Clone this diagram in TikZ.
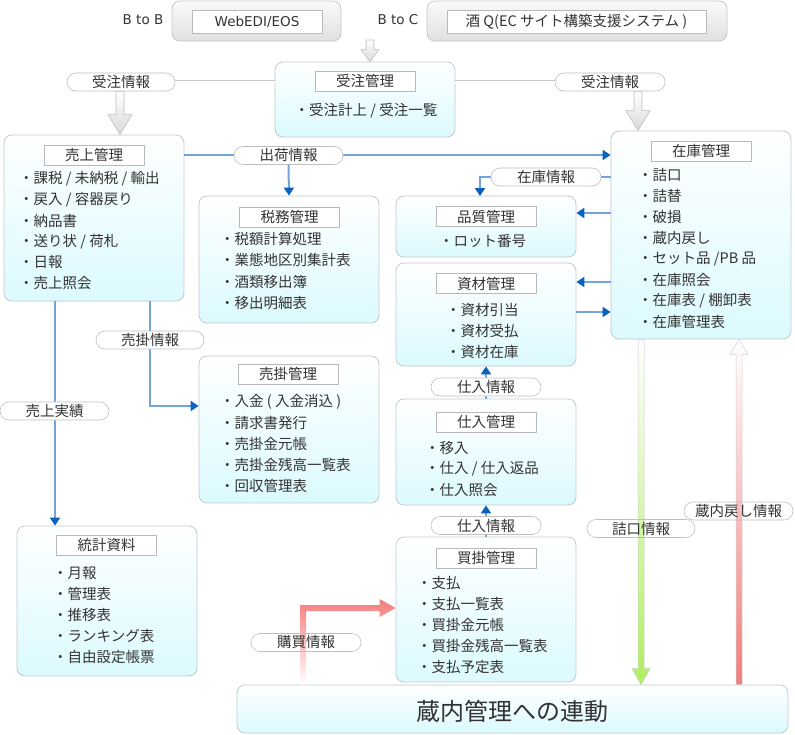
\documentclass[tikz,border=0pt]{standalone}
\usepackage{fontspec}
\setmainfont{Noto Sans CJK JP}
\newfontfamily\latinfont{DejaVu Sans}
\usetikzlibrary{arrows.meta,shapes.misc,calc}

\definecolor{txt}{HTML}{333333}
\definecolor{bxline}{HTML}{C2CACB}
\definecolor{bxfill}{HTML}{DBFAFF}
\definecolor{lblue}{HTML}{72A4DA}
\definecolor{dblue}{HTML}{0A62BE}
\definecolor{salmon}{HTML}{F47C7C}
\definecolor{lime}{HTML}{B0EE60}

% vertical block arrow: from #1 to #2, shaft half width #3, head half width #4, head length #5, style #6
\newcommand\fatv[6]{%
  \path[#6] let \p1=(#1), \p2=(#2), \n1={sign(\y2-\y1)} in
    (\x1-#3,\y1) -- (\x1-#3,\y2-\n1*#5) -- (\x1-#4,\y2-\n1*#5) -- (\x1,\y2)
    -- (\x1+#4,\y2-\n1*#5) -- (\x1+#3,\y2-\n1*#5) -- (\x1+#3,\y1) -- cycle;}

\tikzset{
  module/.style={draw=bxline, line width=0.8pt, rounded corners=8pt,
    top color=white, bottom color=bxfill, inner sep=0pt},
  topbox/.style={draw=gray!45, line width=0.8pt, rounded corners=8pt,
    top color=gray!4, bottom color=gray!24, inner sep=0pt},
  inbox/.style={draw=gray!55, fill=white, line width=0.6pt, inner sep=0pt},
  latin/.style={font=\latinfont\fontsize{13.5}{16}\selectfont},
  headbox/.style={draw=gray!55, fill=white, line width=0.6pt,
    minimum width=100pt, minimum height=20pt, inner sep=0pt},
  item/.style={anchor=west, inner sep=0pt},
  pill/.style={rounded rectangle, draw=gray!50, fill=white, line width=0.6pt,
    minimum height=18pt, inner sep=0pt},
  openpill/.style={rounded rectangle, draw=gray!50, line width=0.6pt,
    minimum height=18pt, inner sep=0pt},
  flow/.style={draw=lblue, line width=2pt,
    -{Triangle[length=8pt,width=10pt,color=dblue]}},
  dbl/.style={draw=gray!45, line width=0.6pt, double=white, double distance=3pt},
  grayarrow/.style={draw=gray!50, line width=0.6pt, top color=white, bottom color=gray!30},
  greenarrow/.style={draw=gray!40, line width=0.5pt, top color=white, bottom color=lime},
  redup/.style={draw=gray!35, line width=0.5pt, top color=white, bottom color=salmon},
  redL/.style={top color=salmon, middle color=salmon, bottom color=white},
}

\begin{document}
\begin{tikzpicture}[x=1pt,y=-1pt, text=txt, font=\fontsize{14.5}{17}\selectfont]
\useasboundingbox (0,0) rectangle (795,734);

% helper coordinates
\coordinate (ga) at (370,40);
\coordinate (gx) at (641,0);
\coordinate (rx) at (739,0);
\coordinate (bx) at (303,0);
\coordinate (by) at (0,608);
\coordinate (yH) at (0,213);
\coordinate (yS1) at (0,282);
\coordinate (yS2) at (0,312);
\coordinate (ua) at (150,0);
\coordinate (uk) at (0,406);
\coordinate (ta) at (55,0);
\coordinate (hq) at (480,196);
\coordinate (jl) at (120,0);
\coordinate (jr) at (638,0);

% order sources
\node[inner sep=0pt, latin] (BBl) at (143,20) {B to B};
\node[topbox, minimum width=169pt, minimum height=40pt] (BB) at (256.5,21) {};
\node[inbox, minimum width=130pt, minimum height=23pt, latin] (BBi) at (257,21.5) {WebEDI/EOS};
\node[inner sep=0pt, latin] (BCl) at (398,20) {B to C};
\node[topbox, minimum width=300pt, minimum height=40pt] (BC) at (577,21) {};
\node[inbox, minimum width=259pt, minimum height=23pt] (BCi) at (576.5,21.5) {酒 Q(EC サイト構築支援システム )};

% modules
\node[module, minimum width=180pt, minimum height=75pt]  (J)  at (365,99.5) {};
\node[module, minimum width=180pt, minimum height=166pt] (U)  at (94,218) {};
\node[module, minimum width=180pt, minimum height=127pt] (Z)  at (289,259.5) {};
\node[module, minimum width=180pt, minimum height=208pt] (K)  at (701,235) {};
\node[module, minimum width=180pt, minimum height=61pt]  (H)  at (486,226.5) {};
\node[module, minimum width=180pt, minimum height=103pt] (S)  at (486,314.5) {};
\node[module, minimum width=180pt, minimum height=106pt] (SI) at (486,452) {};
\node[module, minimum width=180pt, minimum height=145pt] (KK) at (486,609.5) {};
\node[module, minimum width=180pt, minimum height=147pt] (UK) at (289,429.5) {};
\node[module, minimum width=180pt, minimum height=150pt] (T)  at (107,601) {};
\node[module, minimum width=551pt, minimum height=48pt]  (R)  at (512.5,709) {};
\node[inner sep=0pt, font=\fontsize{24}{28}\selectfont] (Rt) at (512.5,711) {蔵内管理への連動};

% module titles
\node[headbox] (Jt)  at (365,81)    {受注管理};
\node[headbox] (Ut)  at (94,155)    {売上管理};
\node[headbox] (Zt)  at (289.5,217) {税務管理};
\node[headbox] (Kt)  at (701,151)   {在庫管理};
\node[headbox] (Ht)  at (486,216.5) {品質管理};
\node[headbox] (St)  at (486,283.5) {資材管理};
\node[headbox] (SIt) at (486,422)   {仕入管理};
\node[headbox] (KKt) at (486,558)   {買掛管理};
\node[headbox] (UKt) at (288,374)   {売掛管理};
\node[headbox] (Tt)  at (106.5,545) {統計資料};

% module contents
\node[inner sep=0pt] (J1) at (366,111) {・受注計上 / 受注一覧};
\foreach \t [count=\i] in {課税 / 未納税 / 輸出, 戻入 / 容器戻り, 納品書, 送り状 / 荷札, 日報, 売上照会}
  \node[item] (U\i) at (19,{179+20.8*(\i-1)}) {・\t};
\foreach \t [count=\i] in {税額計算処理, 業態地区別集計表, 酒類移出簿, 移出明細表}
  \node[item] (Z\i) at (220,{239+21.3*(\i-1)}) {・\t};
\foreach \t [count=\i] in {詰口, 詰替, 破損, 蔵内戻し, セット品 /PB 品, 在庫照会, 在庫表 / 棚卸表, 在庫管理表}
  \node[item] (K\i) at (638,{175+21*(\i-1)}) {・\t};
\node[item] (H1) at (439,241) {・ロット番号};
\foreach \t [count=\i] in {資材引当, 資材受払, 資材在庫}
  \node[item] (S\i) at (446,{310+21*(\i-1)}) {・\t};
\foreach \t [count=\i] in {移入, 仕入 / 仕入返品, 仕入照会}
  \node[item] (SI\i) at (425,{448+21*(\i-1)}) {・\t};
\foreach \t [count=\i] in {支払, 支払一覧表, 買掛金元帳, 買掛金残高一覧表, 支払予定表}
  \node[item] (KK\i) at (417,{583+21*(\i-1)}) {・\t};
\foreach \t [count=\i] in {入金 ( 入金消込 ), 請求書発行, 売掛金元帳, 売掛金残高一覧表, 回収管理表}
  \node[item] (UK\i) at (220,{402+21*(\i-1)}) {・\t};
\foreach \t [count=\i] in {月報, 管理表, 推移表, ランキング表, 自由設定帳票}
  \node[item] (T\i) at (53,{573+21*(\i-1)}) {・\t};

% order flow (gray)
\fatv{ga}{J.north -| ga}{4pt}{9pt}{12pt}{grayarrow}
\node[pill, minimum width=108pt] (JL) at (121,82) {受注情報};
\node[pill, minimum width=110pt] (JR) at (610,82) {受注情報};
\draw[dbl] (JL.east) -- (JL.east -| J.west);
\draw[dbl] (J.east |- JR.west) -- (JR.west);
\fatv{JL.south -| jl}{U.north -| jl}{4pt}{12pt}{20pt}{grayarrow}
\fatv{JR.south -| jr}{K.north -| jr}{4pt}{12pt}{20pt}{grayarrow}

% blue information flows
\coordinate (ys) at (0,155);
\draw[flow] (U.east |- ys) -- (K.west |- ys);
\node[pill, minimum width=109pt] (SH) at (288.5,155.5) {出荷情報};
\draw[flow] (SH.south) -- (Z.north);

\draw[draw=lblue, line width=2pt] (K.west |- 0,177) -- (546,177);
\draw[flow] (546,177) -| (hq);
\node[pill, minimum width=110pt] (ZJ) at (546,177) {在庫情報};

\draw[flow] (K.west |- yH) -- (H.east |- yH);
\draw[flow] (K.west |- yS1) -- (S.east |- yS1);
\draw[flow] (S.east |- yS2) -- (K.west |- yS2);

\draw[flow] (SI.north) -- (S.south);
\node[pill, minimum width=110pt] (SJ1) at (486,387) {仕入情報};
\draw[flow] (KK.north) -- (SI.south);
\node[pill, minimum width=110pt] (SJ2) at (486,525.5) {仕入情報};

\draw[flow] (U.south -| ua) |- (UK.west |- uk);
\node[pill, minimum width=108pt] (UJ) at (150,340) {売掛情報};
\draw[flow] (U.south -| ta) -- (T.north -| ta);
\node[pill, minimum width=109pt] (UR) at (54.5,411) {売上実績};

% links with the brewery system
\path[redL] let \p1=(R.north -| bx), \p2=(KK.west |- by) in
  (\x1-3pt,\y1) -- (\x1-3pt,\y2+3pt) -- (\x2-16pt,\y2+3pt) -- (\x2-16pt,\y2+9pt)
  -- (\x2,\y2) -- (\x2-16pt,\y2-9pt) -- (\x2-16pt,\y2-3pt) -- (\x1+3pt,\y2-3pt)
  -- (\x1+3pt,\y1) -- cycle;
\fatv{K.south -| gx}{R.north -| gx}{3pt}{9pt}{16pt}{greenarrow}
\fatv{R.north -| rx}{K.south -| rx}{3pt}{9pt}{15pt}{redup}
\node[openpill, minimum width=110pt] (KJ) at (306,642.5) {購買情報};
\node[openpill, minimum width=108pt] (TJ) at (641,528.5) {詰口情報};
\node[openpill, minimum width=109pt] (MJ) at (738.5,511) {蔵内戻し情報};
\end{tikzpicture}
\end{document}
